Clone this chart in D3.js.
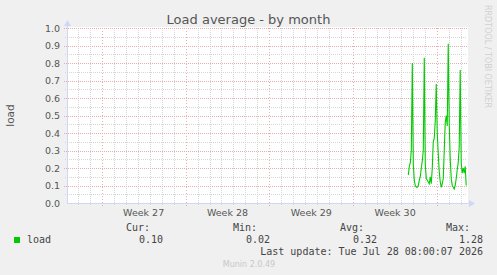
<!DOCTYPE html>
<html>
<head>
<meta charset="utf-8">
<script src="https://cdn.jsdelivr.net/npm/d3@7"></script>
<style>
  html, body { margin: 0; padding: 0; background: #f0f0f0; }
  svg { display: block; }
</style>
</head>
<body>
<svg id="chart" width="497" height="275"></svg>
<script>
// chart data
const title = 'Load average - by month';
const seriesName = 'load';
const yTicks = [0.0, 0.1, 0.2, 0.3, 0.4, 0.5, 0.6, 0.7, 0.8, 0.9, 1.0];
const weekLabels = ['Week 27', 'Week 28', 'Week 29', 'Week 30'];
const weekStarts = ['2026-06-29', '2026-07-06', '2026-07-13', '2026-07-20'];
const rangeStart = '2026-06-26T02:24:00Z';
const rangeEnd = '2026-07-29T12:00:00Z';
const loadStart = '2026-07-24T14:24:00Z'; // one sample every 2 hours from here
const loadValues = [
  0.16, 0.21, 0.23, 0.30, 0.80, 0.22, 0.13, 0.10, 0.09, 0.09,
  0.10, 0.13, 0.15, 0.20, 0.24, 0.30, 0.83, 0.22, 0.14, 0.13,
  0.12, 0.11, 0.15, 0.11, 0.20, 0.35, 0.37, 0.47, 0.68, 0.40,
  0.28, 0.18, 0.12, 0.09, 0.11, 0.14, 0.30, 0.46, 0.50, 0.44,
  0.91, 0.45, 0.25, 0.14, 0.10, 0.09, 0.08, 0.10, 0.14, 0.19,
  0.23, 0.32, 0.76, 0.23, 0.17, 0.20, 0.17, 0.21, 0.10
];
const statNames = ['Cur:', 'Min:', 'Avg:', 'Max:'];
const statValues = ['0.10', '0.02', '0.32', '1.28'];
const lastUpdate = 'Last update: Tue Jul 28 08:00:07 2026';
const footer = 'Munin 2.0.49';

(function() {
  const svg = d3.select('#chart');
  const plotLeft = 67, plotRight = 467, plotTop = 28, plotBottom = 203;
  const fontSans = 'DejaVu Sans, sans-serif';
  const fontMono = 'DejaVu Sans Mono, monospace';
  const axisColor = '#cfd6f8';
  const minorColor = '#d6d6d6';
  const majorColor = '#e5adad';

  const t0 = new Date(rangeStart), t1 = new Date(rangeEnd);
  const xScale = d3.scaleUtc().domain([t0, t1]).range([plotLeft, plotRight]);
  const yScale = d3.scaleLinear().domain([0, 1]).range([plotBottom, plotTop]);

  const loadData = loadValues.map(function(v, i) {
    return { t: d3.utcHour.offset(new Date(loadStart), i * 2), v: v };
  });

  svg.append('rect').attr('width', 497).attr('height', 275).attr('fill', '#f0f0f0');
  svg.append('rect').attr('x', plotLeft).attr('y', plotTop - 1)
    .attr('width', plotRight - plotLeft + 1).attr('height', plotBottom - plotTop + 1).attr('fill', '#fff');

  // grid
  const grid = svg.append('g').attr('shape-rendering', 'crispEdges');
  const minorY = d3.range(0, 1.0001, 0.05).filter(function(v) { return Math.round(v * 100) % 10 !== 0; });
  grid.selectAll('line.hminor').data(minorY).enter().append('line')
    .attr('x1', plotLeft - 2).attr('x2', plotRight)
    .attr('y1', function(d) { return Math.round(yScale(d)) + 0.5; })
    .attr('y2', function(d) { return Math.round(yScale(d)) + 0.5; })
    .attr('stroke', minorColor).attr('stroke-dasharray', '1,1');

  const weekDates = weekStarts.map(function(s) { return new Date(s + 'T00:00:00Z'); });
  const dayLines = d3.utcDay.range(d3.utcDay.ceil(t0), t1).filter(function(d) { return d.getUTCDay() !== 1; });
  grid.selectAll('line.vminor').data(dayLines).enter().append('line')
    .attr('x1', function(d) { return Math.round(xScale(d)) + 0.5; })
    .attr('x2', function(d) { return Math.round(xScale(d)) + 0.5; })
    .attr('y1', plotTop).attr('y2', plotBottom + 2)
    .attr('stroke', minorColor).attr('stroke-dasharray', '1,1');

  grid.selectAll('line.hmajor').data(yTicks.slice(1)).enter().append('line')
    .attr('x1', plotLeft - 3).attr('x2', plotRight)
    .attr('y1', function(d) { return Math.round(yScale(d)) + 0.5; })
    .attr('y2', function(d) { return Math.round(yScale(d)) + 0.5; })
    .attr('stroke', majorColor).attr('stroke-dasharray', '1,1');
  const mondays = d3.utcMonday.range(t0, t1);
  grid.selectAll('line.vmajor').data(mondays).enter().append('line')
    .attr('x1', function(d) { return Math.round(xScale(d)) + 0.5; })
    .attr('x2', function(d) { return Math.round(xScale(d)) + 0.5; })
    .attr('y1', plotTop).attr('y2', plotBottom + 3)
    .attr('stroke', majorColor).attr('stroke-dasharray', '1,2');

  // axes
  const axes = svg.append('g').attr('shape-rendering', 'crispEdges');
  axes.append('line').attr('x1', plotLeft + 0.5).attr('x2', plotLeft + 0.5)
    .attr('y1', plotBottom).attr('y2', plotTop - 4).attr('stroke', axisColor);
  axes.append('line').attr('x1', plotLeft).attr('x2', plotRight + 3)
    .attr('y1', plotBottom + 0.5).attr('y2', plotBottom + 0.5).attr('stroke', axisColor);
  svg.append('path').attr('d', 'M' + (plotLeft - 3) + ',' + (plotTop - 2) + 'L' + (plotLeft + 4) + ',' + (plotTop - 2) + 'L' + (plotLeft + 0.5) + ',' + (plotTop - 8) + 'Z')
    .attr('fill', axisColor);
  svg.append('path').attr('d', 'M' + (plotRight + 2) + ',' + (plotBottom - 3) + 'L' + (plotRight + 2) + ',' + (plotBottom + 4) + 'L' + (plotRight + 8) + ',' + (plotBottom + 0.5) + 'Z')
    .attr('fill', axisColor);

  // load line
  const line = d3.line().x(function(d) { return xScale(d.t); }).y(function(d) { return yScale(d.v); });
  svg.append('path').datum(loadData).attr('d', line)
    .attr('fill', 'none').attr('stroke', '#00cc00').attr('stroke-width', 1.1);

  // y labels
  svg.selectAll('text.ylab').data(yTicks).enter().append('text')
    .attr('x', 60).attr('y', function(d) { return yScale(d) + 3.5; })
    .attr('text-anchor', 'end').attr('font-family', fontSans).attr('font-size', 9.5)
    .attr('fill', '#555').text(function(d) { return d.toFixed(1); });

  // week labels, centred on each week
  svg.selectAll('text.xlab').data(weekLabels).enter().append('text')
    .attr('x', function(d, i) { return xScale(d3.utcHour.offset(weekDates[i], 84)); })
    .attr('y', 216).attr('text-anchor', 'middle')
    .attr('font-family', fontSans).attr('font-size', 9.5).attr('fill', '#555')
    .text(function(d) { return d; });

  svg.append('text').attr('x', 248.5).attr('y', 24).attr('text-anchor', 'middle')
    .attr('font-family', fontSans).attr('font-size', 13).attr('fill', '#555').text(title);

  svg.append('text').attr('transform', 'translate(14,' + ((plotTop + plotBottom) / 2) + ') rotate(-90)')
    .attr('text-anchor', 'middle').attr('font-family', fontSans).attr('font-size', 10.5)
    .attr('fill', '#555').text(seriesName);

  svg.append('text').attr('transform', 'translate(485,5) rotate(90)')
    .attr('font-family', fontSans).attr('font-size', 8).attr('fill', '#d0d0d0')
    .text('RRDTOOL / TOBI OETIKER');

  // legend
  const statRight = [150, 257, 364, 470];
  const legend = svg.append('g').attr('font-family', fontMono).attr('font-size', 10).attr('fill', '#444');
  legend.selectAll('text.sname').data(statNames).enter().append('text')
    .attr('x', function(d, i) { return statRight[i]; }).attr('y', 231)
    .attr('text-anchor', 'end').text(function(d) { return d; });
  legend.selectAll('text.sval').data(statValues).enter().append('text')
    .attr('x', function(d, i) { return statRight[i] + 13; }).attr('y', 243)
    .attr('text-anchor', 'end').text(function(d) { return d; });
  legend.append('text').attr('x', 27).attr('y', 243).text(seriesName);
  legend.append('text').attr('x', 483).attr('y', 255).attr('text-anchor', 'end').text(lastUpdate);
  svg.append('rect').attr('x', 14).attr('y', 237).attr('width', 6).attr('height', 6).attr('fill', '#00cc00');

  svg.append('text').attr('x', 249).attr('y', 266.5).attr('text-anchor', 'middle')
    .attr('font-family', fontSans).attr('font-size', 8).attr('fill', '#c8c8c8').text(footer);
}());
</script>
</body>
</html>
